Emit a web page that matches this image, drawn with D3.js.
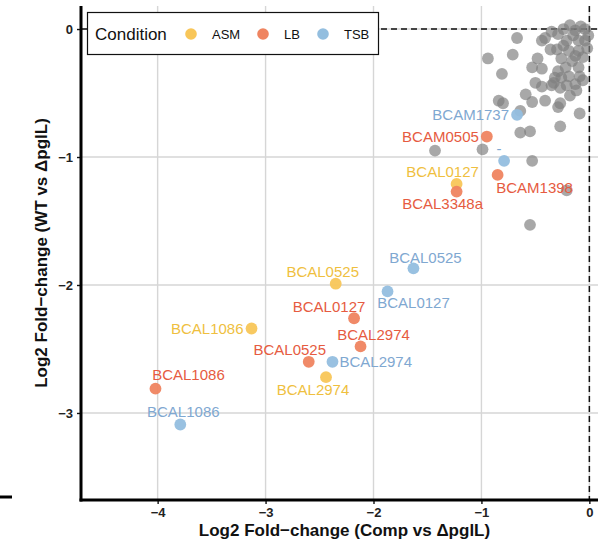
<!DOCTYPE html>
<html>
<head>
<meta charset="utf-8">
<script src="https://cdn.jsdelivr.net/npm/d3@7"></script>
<style>
  html, body { margin: 0; padding: 0; background: #fff; }
  svg { display: block; }
  text { font-family: "Liberation Sans", Arial, Helvetica, sans-serif; }
</style>
</head>
<body>
<svg id="chart" width="598" height="545"></svg>
<script>
// ---------------- data ----------------
const conditions = ["ASM", "LB", "TSB"];
const conditionColors = ["#F8C659", "#EF8460", "#93BEDF"];
const labelColors = ["#EFBF3F", "#E65B41", "#7FA8D1"];

// background (unlabelled) genes: x = Comp vs ΔpglL, y = WT vs ΔpglL
const grayX = [-0.67,-0.94,-0.71,-0.81,-0.41,-0.44,-0.36,-0.48,-0.53,-0.44,
               -0.50,-0.44,-0.59,-0.53,-0.84,-0.80,-0.64,-0.41,-0.27,-0.29,
               -0.18,-0.12,-0.09,-0.27,-0.64,-0.55,-0.33,-0.35,-0.26,-0.21,
               -1.43,-0.99,-0.53,-0.21,-0.55,
               -0.24,-0.13,-0.04,-0.29,-0.21,-0.10,-0.04,-0.30,-0.19,-0.10,
               -0.06,-0.26,-0.16,-0.22,-0.10,-0.29,-0.19,-0.09,-0.32,-0.06,
               -0.27,-0.13,-0.35,-0.18,-0.08,-0.01,-0.15,-0.02,-0.24,-0.13];
const grayY = [-0.07,-0.23,-0.20,-0.35,-0.07,-0.09,-0.16,-0.23,-0.30,-0.31,
               -0.42,-0.45,-0.51,-0.57,-0.56,-0.58,-0.64,-0.56,-0.58,-0.61,
               -0.52,-0.48,-0.66,-0.76,-0.81,-0.80,-0.42,-0.44,-0.38,-0.44,
               -0.95,-0.94,-1.03,-1.26,-1.53,
               0.00,-0.01,0.00,-0.04,-0.09,-0.09,-0.09,-0.16,-0.17,-0.17,
               -0.22,-0.23,-0.25,-0.30,-0.30,-0.33,-0.37,-0.37,-0.38,-0.40,
               -0.46,-0.43,-0.02,0.03,0.02,-0.05,-0.05,-0.15,-0.13,-0.21];

// highlighted genes
const geneNames = ["BCAL0525","BCAL1086","BCAL2974","BCAL0127",
                   "BCAL0127","BCAL2974","BCAL0525","BCAL1086","BCAM0505","BCAM1398","BCAL3348a",
                   "BCAL0525","BCAL0127","BCAL2974","BCAL1086","BCAM1737","-"];
const geneCondition = ["ASM","ASM","ASM","ASM",
                       "LB","LB","LB","LB","LB","LB","LB",
                       "TSB","TSB","TSB","TSB","TSB","TSB"];
const geneX = [-2.35,-3.13,-2.44,-1.23,
               -2.18,-2.12,-2.60,-4.02,-0.95,-0.85,-1.23,
               -1.63,-1.87,-2.38,-3.79,-0.67,-0.79];
const geneY = [-1.99,-2.34,-2.72,-1.21,
               -2.26,-2.48,-2.60,-2.81,-0.84,-1.14,-1.27,
               -1.87,-2.05,-2.60,-3.09,-0.67,-1.03];

const xTicks = [-4, -3, -2, -1, 0];
const yTicks = [0, -1, -2, -3];

// label placement (pixel offsets from the point, like ggrepel)
const labelDx = [-13,-8,-13,-14, -25,13,-19,33,-8,37,-14, 12,26,7,3,-8,-5];
const labelDy = [-12,0,12,-12, -12,-12,-12,-14,0,13,12, -11,11,0,-13,0,-12];
const labelAnchor = ["middle","end","middle","middle",
                     "middle","middle","middle","middle","end","middle","middle",
                     "middle","middle","start","middle","end","middle"];

// ---------------- chart ----------------
const svg = d3.select("#chart");
const pLeft = 81, pRight = 598, pTop = 6, pBottom = 500;

const x = d3.scaleLinear().domain([-4.71, 0.08]).range([pLeft, pRight]);
const y = d3.scaleLinear().domain([0.18, -3.68]).range([pTop, pBottom]);
const color = d3.scaleOrdinal().domain(conditions).range(conditionColors);
const lcolor = d3.scaleOrdinal().domain(conditions).range(labelColors);

// grid
const grid = svg.append("g");
grid.selectAll("line.vx").data(xTicks).join("line")
  .attr("x1", d => x(d)).attr("x2", d => x(d))
  .attr("y1", pTop).attr("y2", pBottom)
  .attr("stroke", "#d6d6d6").attr("stroke-width", 1.4);
grid.selectAll("line.hy").data(yTicks).join("line")
  .attr("y1", d => y(d)).attr("y2", d => y(d))
  .attr("x1", pLeft).attr("x2", pRight)
  .attr("stroke", "#d6d6d6").attr("stroke-width", 1.4);

// reference dashed lines at 0
svg.append("line")
  .attr("x1", x(0)).attr("x2", x(0)).attr("y1", pTop).attr("y2", pBottom)
  .attr("stroke", "#111").attr("stroke-width", 1.5).attr("stroke-dasharray", "6,4");
svg.append("line")
  .attr("x1", pLeft).attr("x2", pRight).attr("y1", y(0)).attr("y2", y(0))
  .attr("stroke", "#111").attr("stroke-width", 1.5).attr("stroke-dasharray", "6,4");

// gray points
const grayData = grayX.map((v, i) => ({x: v, y: grayY[i]}));
svg.append("g").selectAll("circle").data(grayData).join("circle")
  .attr("cx", d => x(d.x)).attr("cy", d => y(d.y)).attr("r", 5.9)
  .attr("fill", "#7f7f7f").attr("fill-opacity", 0.68);

// highlighted points
const genes = geneNames.map((n, i) => ({
  name: n, cond: geneCondition[i], x: geneX[i], y: geneY[i],
  dx: labelDx[i], dy: labelDy[i], anchor: labelAnchor[i]
}));
svg.append("g").selectAll("circle").data(genes).join("circle")
  .attr("cx", d => x(d.x)).attr("cy", d => y(d.y)).attr("r", 5.9)
  .attr("fill", d => color(d.cond)).attr("fill-opacity", 0.95);

svg.append("g").selectAll("text").data(genes).join("text")
  .attr("x", d => x(d.x) + d.dx).attr("y", d => y(d.y) + d.dy)
  .attr("text-anchor", d => d.anchor)
  .attr("dominant-baseline", "central")
  .attr("font-size", 15)
  .attr("fill", d => lcolor(d.cond))
  .text(d => d.name);

// axes
const fmt = d => String(d).replace("-", "\u2212");
const xAxis = d3.axisBottom(x).tickValues(xTicks).tickSize(4).tickPadding(4).tickFormat(fmt);
const gx = svg.append("g").attr("transform", `translate(0,${pBottom})`).call(xAxis);
gx.select(".domain").remove();
gx.selectAll(".tick line").attr("stroke", "#111").attr("stroke-width", 1.4);
gx.selectAll(".tick text").attr("font-size", 13).attr("font-weight", "bold")
  .attr("fill", "#222").attr("font-family", "Liberation Sans, Arial, sans-serif");

const yAxis = d3.axisLeft(y).tickValues(yTicks).tickSize(4).tickPadding(4).tickFormat(fmt);
const gy = svg.append("g").attr("transform", `translate(${pLeft},0)`).call(yAxis);
gy.select(".domain").remove();
gy.selectAll(".tick line").attr("stroke", "#111").attr("stroke-width", 1.4);
gy.selectAll(".tick text").attr("font-size", 13).attr("font-weight", "bold")
  .attr("fill", "#222").attr("font-family", "Liberation Sans, Arial, sans-serif");

// axis lines (thick)
svg.append("line").attr("x1", pLeft).attr("x2", pLeft).attr("y1", pTop).attr("y2", pBottom + 1.5)
  .attr("stroke", "#000").attr("stroke-width", 3);
svg.append("line").attr("x1", pLeft - 1.5).attr("x2", pRight).attr("y1", pBottom).attr("y2", pBottom)
  .attr("stroke", "#000").attr("stroke-width", 3);

// axis titles
svg.append("text")
  .attr("x", (pLeft + pRight) / 2 + 5).attr("y", 530)
  .attr("text-anchor", "middle").attr("dominant-baseline", "central")
  .attr("font-size", 17).attr("font-weight", "bold").attr("fill", "#111")
  .text("Log2 Fold\u2212change (Comp vs \u0394pglL)");
svg.append("text")
  .attr("transform", `translate(41,253) rotate(-90)`)
  .attr("text-anchor", "middle").attr("dominant-baseline", "central")
  .attr("font-size", 17).attr("font-weight", "bold").attr("fill", "#111")
  .text("Log2 Fold\u2212change (WT vs \u0394pglL)");

// legend
const lg = svg.append("g");
lg.append("rect").attr("x", 87.5).attr("y", 12.5).attr("width", 291).attr("height", 42)
  .attr("fill", "#fff").attr("stroke", "#111").attr("stroke-width", 1.2);
lg.append("text").attr("x", 95).attr("y", 34).attr("dominant-baseline", "central")
  .attr("font-size", 17).attr("fill", "#111").text("Condition");
const legendDotX = [191, 263, 323];
conditions.forEach((c, i) => {
  lg.append("circle").attr("cx", legendDotX[i]).attr("cy", 34).attr("r", 5.8)
    .attr("fill", color(c));
  lg.append("text").attr("x", legendDotX[i] + 21).attr("y", 34.5)
    .attr("dominant-baseline", "central").attr("font-size", 13).attr("fill", "#111").text(c);
});

// fragment of neighbouring panel at bottom-left edge
svg.append("line").attr("x1", 0).attr("x2", 12).attr("y1", 497).attr("y2", 497)
  .attr("stroke", "#000").attr("stroke-width", 3);
</script>
</body>
</html>
